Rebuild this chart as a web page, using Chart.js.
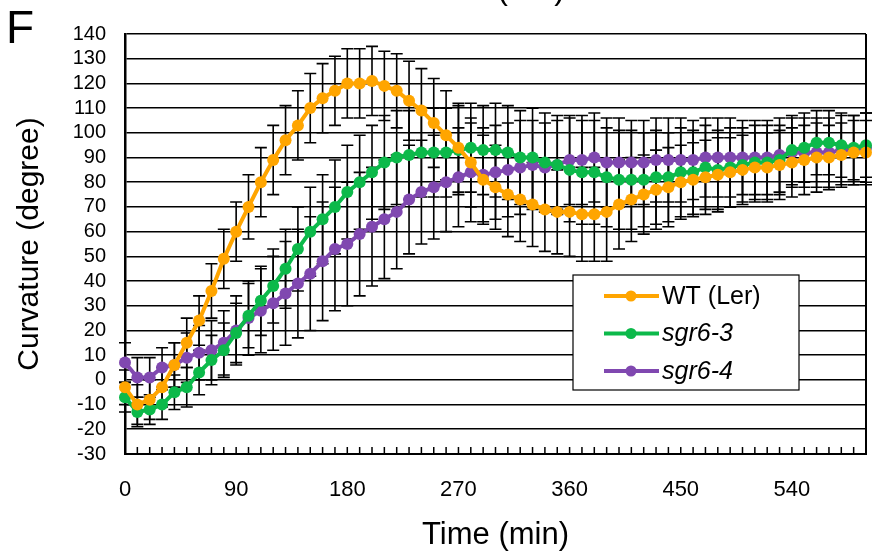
<!DOCTYPE html>
<html>
<head>
<meta charset="utf-8">
<script src="https://cdn.jsdelivr.net/npm/chart.js@4/dist/chart.umd.min.js"></script>
<style>
  html, body { margin: 0; padding: 0; background: #fff; }
  #wrap { width: 873px; height: 554px; }
</style>
</head>
<body>
<div id="wrap"><canvas id="chart" width="873" height="554"></canvas></div>
<script>
// Time points (min)
const times = [0, 10, 20, 30, 40, 50, 60, 70, 80, 90,
  100, 110, 120, 130, 140, 150, 160, 170, 180, 190,
  200, 210, 220, 230, 240, 250, 260, 270, 280, 290,
  300, 310, 320, 330, 340, 350, 360, 370, 380, 390,
  400, 410, 420, 430, 440, 450, 460, 470, 480, 490,
  500, 510, 520, 530, 540, 550, 560, 570, 580, 590, 600];

// Curvature (degree)
const wtLer = [-3, -10, -8, -3, 6, 15, 24, 36, 49, 60,
  70, 80, 89, 97, 103, 110, 114, 117, 120, 120,
  121, 119, 117, 113, 109, 104, 99, 94, 88, 81,
  78, 75, 73, 71, 69, 68, 68, 67, 67, 68,
  71, 73, 75, 77, 78, 80, 81, 82, 83, 84,
  85, 86, 86, 87, 88, 89, 90, 90, 91, 92, 92];
const sgr63 = [-7, -13, -12, -10, -5, -3, 3, 8, 12, 19,
  26, 32, 38, 45, 53, 60, 65, 70, 76, 80,
  84, 88, 90, 91, 92, 92, 92, 93, 94, 93,
  93, 92, 90, 90, 88, 87, 85, 84, 84, 82,
  81, 81, 81, 82, 82, 84, 84, 86, 85, 86,
  87, 88, 88, 89, 93, 94, 96, 96, 95, 94, 95];
const sgr64 = [7, 1, 1, 5, 6, 9, 11, 12, 15, 20,
  25, 28, 31, 35, 39, 43, 48, 53, 55, 59,
  62, 65, 68, 73, 76, 78, 80, 82, 84, 83,
  84, 85, 86, 87, 86, 87, 89, 89, 90, 88,
  88, 88, 88, 89, 89, 89, 89, 90, 90, 90,
  90, 90, 90, 91, 92, 92, 92, 92, 93, 93, 94];

// Error bar half-lengths (degree)
const wtErr = [7, 8, 8, 8, 9, 10, 10, 11, 12, 12,
  13, 14, 14, 14, 14, 14, 14, 14, 14, 14,
  14, 14, 15, 16, 17, 18, 18, 18, 18, 18,
  17, 17, 17, 17, 17, 17, 18, 19, 19, 20,
  18, 17, 16, 16, 16, 15, 15, 15, 15, 14,
  14, 14, 14, 14, 14, 14, 14, 13, 13, 13, 13];
const sgr63Err = [6, 6, 6, 6, 7, 8, 9, 10, 11, 12,
  13, 14, 15, 16, 17, 18, 18, 19, 19, 19,
  19, 19, 19, 18, 18, 18, 18, 18, 18, 18,
  19, 19, 19, 20, 20, 20, 21, 21, 21, 20,
  20, 20, 19, 19, 18, 18, 17, 17, 16, 16,
  15, 15, 15, 14, 14, 14, 13, 13, 13, 13, 13];
const sgr64Err = [8, 8, 8, 8, 9, 10, 11, 12, 13, 14,
  15, 17, 19, 21, 22, 23, 24, 25, 25, 25,
  24, 24, 23, 22, 21, 21, 20, 20, 20, 19,
  19, 19, 19, 18, 18, 18, 18, 18, 18, 18,
  18, 17, 17, 17, 17, 17, 16, 16, 16, 16,
  15, 15, 15, 15, 14, 14, 14, 14, 14, 14, 14];

const seriesNames = ['WT (Ler)', 'sgr6-3', 'sgr6-4'];
const seriesItalic = [false, true, true];
const colors = ['#FFA500', '#0CB94A', '#8048B0'];

const FONT = '"Liberation Sans", Arial, sans-serif';

// error bars, drawn under the lines
const errorBars = {
  id: 'errorBars',
  beforeDatasetsDraw(chart) {
    const ctx = chart.ctx;
    const yScale = chart.scales.y;
    const area = chart.chartArea;
    ctx.save();
    ctx.beginPath();
    ctx.rect(area.left - 10, area.top, area.right - area.left + 20, area.bottom - area.top);
    ctx.clip();
    ctx.strokeStyle = '#000';
    ctx.lineWidth = 1.6;
    chart.data.datasets.forEach((ds, di) => {
      const meta = chart.getDatasetMeta(di);
      meta.data.forEach((pt, i) => {
        const e = ds.errors[i];
        const yTop = yScale.getPixelForValue(ds.data[i] + e);
        const yBot = yScale.getPixelForValue(ds.data[i] - e);
        const x = pt.x;
        ctx.beginPath();
        ctx.moveTo(x, yTop); ctx.lineTo(x, yBot);
        ctx.moveTo(x - 6, yTop); ctx.lineTo(x + 6, yTop);
        ctx.moveTo(x - 6, yBot); ctx.lineTo(x + 6, yBot);
        ctx.stroke();
      });
    });
    ctx.restore();
  }
};

// inner tick marks, right border, legend box, panel letter
const decorations = {
  id: 'decorations',
  afterDraw(chart) {
    const ctx = chart.ctx;
    const xScale = chart.scales.x;
    const area = chart.chartArea;
    ctx.save();
    ctx.strokeStyle = '#000';
    ctx.lineWidth = 1.5;
    ctx.beginPath();
    times.forEach((t, i) => {
      const x = xScale.getPixelForValue(i);
      ctx.moveTo(x, area.bottom);
      ctx.lineTo(x, area.bottom - 7);
    });
    ctx.stroke();

    ctx.lineWidth = 2;
    ctx.beginPath();
    ctx.moveTo(area.right, area.top);
    ctx.lineTo(area.right, area.bottom);
    ctx.stroke();

    // legend
    const lx = 573, ly = 275, lw = 226, lh = 115;
    ctx.fillStyle = '#fff';
    ctx.fillRect(lx, ly, lw, lh);
    ctx.lineWidth = 1.2;
    ctx.strokeRect(lx, ly, lw, lh);
    seriesNames.forEach((name, i) => {
      const cy = 296 + i * 37.5;
      ctx.strokeStyle = colors[i];
      ctx.lineWidth = 4;
      ctx.beginPath();
      ctx.moveTo(604, cy);
      ctx.lineTo(659, cy);
      ctx.stroke();
      ctx.fillStyle = colors[i];
      ctx.beginPath();
      ctx.arc(631, cy, 5.5, 0, Math.PI * 2);
      ctx.fill();
      ctx.fillStyle = '#000';
      ctx.font = (seriesItalic[i] ? 'italic ' : '') + '25px ' + FONT;
      ctx.textAlign = 'left';
      ctx.textBaseline = 'middle';
      ctx.fillText(name, 662, cy + 1);
    });

    // panel letter and the cut-off heading above the plot
    ctx.fillStyle = '#000';
    ctx.textBaseline = 'alphabetic';
    ctx.textAlign = 'left';
    ctx.font = '46px ' + FONT;
    ctx.fillText('F', 6, 43);
    ctx.textAlign = 'center';
    ctx.font = '32px ' + FONT;
    ctx.fillText('(Ler)', 531, -1);
    ctx.restore();
  }
};

const datasets = [wtLer, sgr63, sgr64].map((vals, i) => ({
  label: seriesNames[i],
  data: vals,
  errors: [wtErr, sgr63Err, sgr64Err][i],
  borderColor: colors[i],
  backgroundColor: colors[i],
  borderWidth: 4,
  pointRadius: 6,
  pointBorderWidth: 0,
  pointHoverRadius: 6,
  tension: 0,
  clip: false
}));

new Chart(document.getElementById('chart').getContext('2d'), {
  type: 'line',
  data: { labels: times, datasets: datasets },
  options: {
    responsive: false,
    animation: false,
    layout: { padding: { left: 0, top: 34, right: 7, bottom: 0 } },
    plugins: {
      legend: { display: false },
      tooltip: { enabled: false }
    },
    scales: {
      x: {
        type: 'category',
        offset: false,
        grid: { display: false, drawTicks: false },
        border: { display: true, color: '#000', width: 2 },
        ticks: {
          autoSkip: false,
          maxRotation: 0,
          padding: 23,
          color: '#000',
          font: { family: FONT, size: 22 },
          callback: function(value, index) {
            return index % 9 === 0 ? String(times[index]) : '';
          }
        },
        title: {
          display: true,
          text: 'Time (min)',
          color: '#000',
          font: { family: FONT, size: 31 },
          padding: { top: 0, bottom: 0 }
        },
        afterFit: function(scale) {
          scale.height = 100;
          scale.paddingLeft = 0;
          scale.paddingRight = 0;
        }
      },
      y: {
        min: -30,
        max: 140,
        grid: { color: '#000', lineWidth: 1.6, drawTicks: false },
        border: { display: true, color: '#000', width: 2.5 },
        ticks: {
          stepSize: 10,
          autoSkip: false,
          padding: 19,
          color: '#000',
          font: { family: FONT, size: 20 }
        },
        title: {
          display: true,
          text: 'Curvature (degree)',
          color: '#000',
          font: { family: FONT, size: 30 },
          padding: { top: 12, bottom: 4 }
        },
        afterFit: function(scale) {
          scale.width = 125;
          scale.paddingTop = 0;
          scale.paddingBottom = 0;
        }
      }
    }
  },
  plugins: [errorBars, decorations]
});
</script>
</body>
</html>
